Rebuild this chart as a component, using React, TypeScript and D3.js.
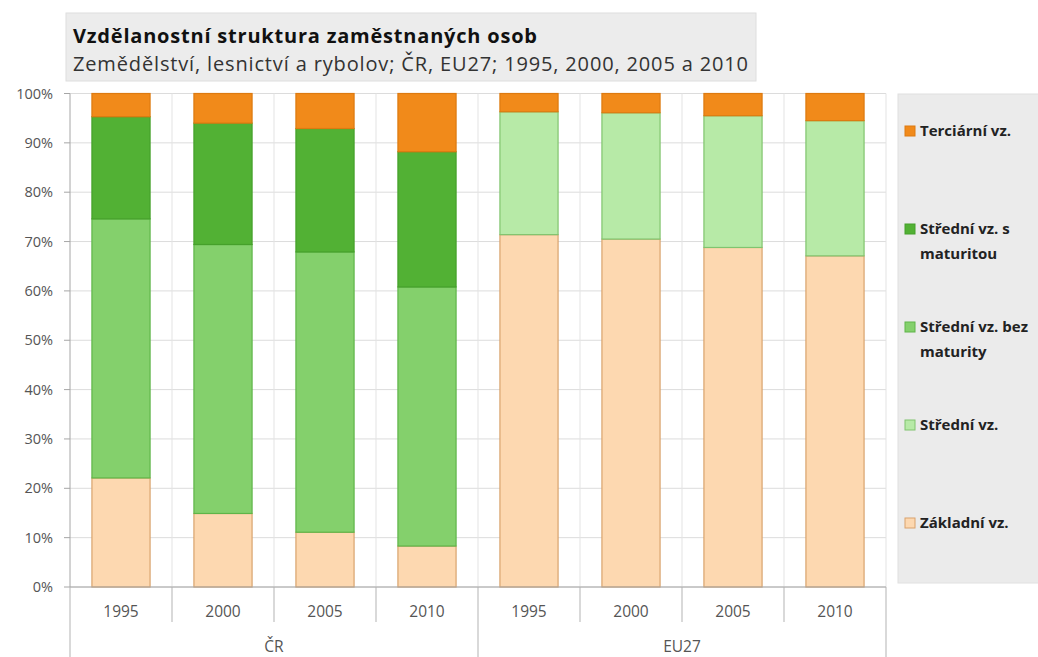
import React from 'react'
import * as d3 from 'd3';

const groups = ['ČR', 'EU27'];
const years = ['1995', '2000', '2005', '2010'];

// hodnoty v % (ČR 1995..2010, EU27 1995..2010)
const zakladni = [22.1, 14.9, 11.1, 8.3, 71.4, 70.5, 68.8, 67.1];
const stredniBezMat = [52.5, 54.5, 56.8, 52.5, 0, 0, 0, 0];
const stredni = [0, 0, 0, 0, 24.9, 25.6, 26.7, 27.4];
const stredniSMat = [20.7, 24.6, 25.0, 27.4, 0, 0, 0, 0];
const terciarni = [4.7, 6.0, 7.1, 11.8, 3.7, 3.9, 4.5, 5.5];

const seriesNames = ['Základní vz.', 'Střední vz.', 'Střední vz. bez maturity', 'Střední vz. s maturitou', 'Terciární vz.'];
const legendOrder = ['Terciární vz.', 'Střední vz. s maturitou', 'Střední vz. bez maturity', 'Střední vz.', 'Základní vz.'];
const legendLines = {
  'Terciární vz.': ['Terciární vz.'],
  'Střední vz. s maturitou': ['Střední vz. s', 'maturitou'],
  'Střední vz. bez maturity': ['Střední vz. bez', 'maturity'],
  'Střední vz.': ['Střední vz.'],
  'Základní vz.': ['Základní vz.'],
};
const yTicks = [0, 10, 20, 30, 40, 50, 60, 70, 80, 90, 100];

const fills = {
  'Základní vz.': '#fdd8b0',
  'Střední vz.': '#b7eaa7',
  'Střední vz. bez maturity': '#84d06c',
  'Střední vz. s maturitou': '#52b134',
  'Terciární vz.': '#f18a1a',
};
const strokes = {
  'Základní vz.': '#d9a26c',
  'Střední vz.': '#80c46f',
  'Střední vz. bez maturity': '#5fb548',
  'Střední vz. s maturitou': '#45a02a',
  'Terciární vz.': '#dd7a10',
};

const font = '"Open Sans", sans-serif';

export default function App() {
  const W = 1038, H = 657;
  const left = 70, right = 886, top = 93.5, bottom = 587;

  const keys = groups.flatMap(g => years.map(y => g + ' ' + y));
  const rows = keys.map((k, i) => ({
    key: k,
    'Základní vz.': zakladni[i],
    'Střední vz.': stredni[i],
    'Střední vz. bez maturity': stredniBezMat[i],
    'Střední vz. s maturitou': stredniSMat[i],
    'Terciární vz.': terciarni[i],
  }));

  const x = d3.scaleBand().domain(keys).range([left, right]).paddingInner(0.43).paddingOuter(0.215);
  const y = d3.scaleLinear().domain([0, 100]).range([bottom, top]);
  const stacked = d3.stack().keys(seriesNames)(rows as any);

  const step = x.step();
  const bounds = d3.range(keys.length + 1).map(i => left + i * step);
  const groupW = step * years.length;

  const legendY = d3.scalePoint().domain(legendOrder).range([131, 523]);

  return (
    <svg width={W} height={H} style={{ position: 'absolute', left: 0, top: 0, background: '#fff' }}>
      {/* titulek */}
      <rect x={66} y={13} width={690} height={68} fill="#ececec" stroke="#dedede" />
      <text x={73} y={43} fontFamily={font} fontSize={20} fontWeight="bold" fill="#111"
        textLength={464} lengthAdjust="spacing">
        Vzdělanostní struktura zaměstnaných osob
      </text>
      <text x={73} y={71} fontFamily={font} fontSize={20} fill="#333"
        textLength={675} lengthAdjust="spacing">
        Zemědělství, lesnictví a rybolov; ČR, EU27; 1995, 2000, 2005 a 2010
      </text>

      {/* mřížka */}
      {yTicks.map(t => (
        <line key={'h' + t} x1={left} x2={right} y1={y(t)} y2={y(t)} stroke="#dcdcdc" />
      ))}
      {bounds.slice(1).map((b, i) => (
        <line key={'v' + i} x1={b} x2={b} y1={top} y2={bottom} stroke="#e3e3e3" />
      ))}

      {/* sloupce */}
      {stacked.map(s => (
        <g key={s.key}>
          {s.map((d, i) => d[1] - d[0] > 0 ? (
            <rect key={i} x={x(keys[i])} width={x.bandwidth()} y={y(d[1])} height={y(d[0]) - y(d[1])}
              fill={fills[s.key]} stroke={strokes[s.key]} strokeWidth={1.2} />
          ) : null)}
        </g>
      ))}

      {/* osa y */}
      <line x1={left} x2={left} y1={top} y2={bottom} stroke="#a6a6a6" />
      {yTicks.map(t => (
        <g key={'t' + t}>
          <line x1={left - 6} x2={left} y1={y(t)} y2={y(t)} stroke="#a6a6a6" />
          <text x={53} y={y(t)} dy="0.35em" textAnchor="end" fontFamily={font} fontSize={14.5} fill="#555">{t}%</text>
        </g>
      ))}

      {/* osa x */}
      <line x1={left} x2={right} y1={bottom} y2={bottom} stroke="#a6a6a6" />
      {bounds.map((b, i) => {
        const isGroup = i % years.length === 0;
        return <line key={'s' + i} x1={b} x2={b} y1={bottom} y2={isGroup ? H : 622} stroke="#b3b3b3" />;
      })}
      {keys.map((k, i) => (
        <text key={'l' + k} x={x(k)! + x.bandwidth() / 2} y={612} dy="0.35em" textAnchor="middle"
          fontFamily={font} fontSize={15.5} fill="#555">{years[i % years.length]}</text>
      ))}
      {groups.map((g, i) => (
        <text key={g} x={left + groupW * i + groupW / 2} y={647} dy="0.35em" textAnchor="middle"
          fontFamily={font} fontSize={15.5} fill="#555">{g}</text>
      ))}

      {/* legenda */}
      <rect x={898} y={94} width={145} height={489} fill="#ebebeb" stroke="#e0e0e0" />
      {legendOrder.map(name => {
        const ly = legendY(name)!;
        return (
          <g key={name}>
            <rect x={905} y={ly - 5} width={10} height={10} fill={fills[name]} stroke={strokes[name]} />
            {legendLines[name].map((line, j) => (
              <text key={j} x={920} y={ly + j * 25} dy="0.35em" fontFamily={font} fontSize={15}
                fontWeight="bold" fill="#222">{line}</text>
            ))}
          </g>
        );
      })}
    </svg>
  );
}
